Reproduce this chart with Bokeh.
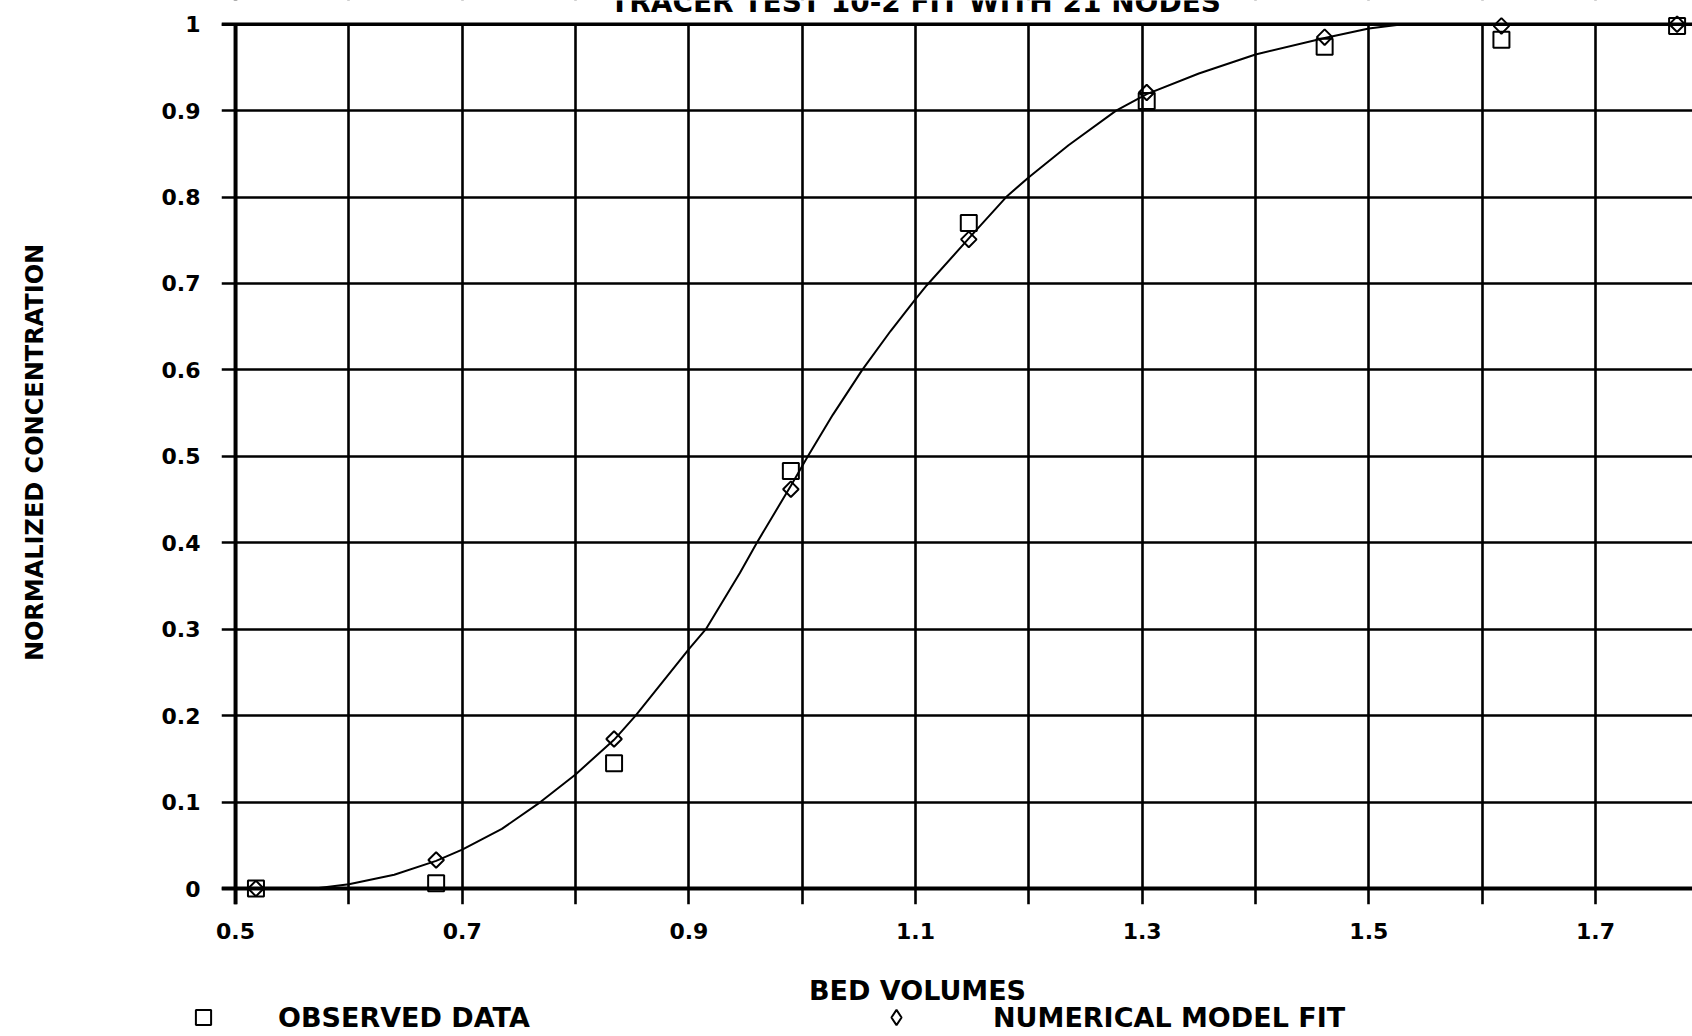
import math
from bokeh.plotting import figure
from bokeh.models import (Range1d, FixedTicker, Span, BoxAnnotation, Label,
                          Legend, LegendItem, CustomJSTickFormatter)
from bokeh.embed import file_html
from bokeh.resources import INLINE

# ---------------- data ----------------
title_text = "TRACER TEST 10-2 FIT WITH 21 NODES"
x_label = "BED VOLUMES"
y_label = "NORMALIZED CONCENTRATION"
obs_label = "OBSERVED DATA"
model_label = "NUMERICAL MODEL FIT"

x_ticks_labeled = [0.5, 0.7, 0.9, 1.1, 1.3, 1.5, 1.7]
x_ticks_unlabeled = [0.6, 0.8, 1.0, 1.2, 1.4, 1.6]
y_ticks = [0.0, 0.1, 0.2, 0.3, 0.4, 0.5, 0.6, 0.7, 0.8, 0.9, 1.0]

bed_volumes = [0.518, 0.677, 0.834, 0.990, 1.147, 1.304, 1.461, 1.617, 1.772]
observed = [0.0, 0.006, 0.145, 0.483, 0.770, 0.911, 0.974, 0.982, 0.998]
model_fit = [0.0, 0.033, 0.173, 0.462, 0.751, 0.921, 0.985, 0.998, 1.0]

curve_x = [0.50, 0.57, 0.60, 0.64, 0.677, 0.70, 0.735, 0.769, 0.80, 0.834,
           0.853, 0.90, 0.915, 0.945, 0.960, 0.99, 1.005, 1.027, 1.053, 1.078,
           1.10, 1.110, 1.149, 1.180, 1.20, 1.235, 1.277, 1.304, 1.35, 1.40,
           1.461, 1.50, 1.53, 1.786]
curve_y = [0.0, 0.0, 0.005, 0.016, 0.032, 0.045, 0.069, 0.100, 0.132, 0.172,
           0.200, 0.277, 0.300, 0.365, 0.400, 0.466, 0.500, 0.548, 0.600, 0.645,
           0.682, 0.698, 0.755, 0.800, 0.823, 0.860, 0.900, 0.919, 0.943, 0.965,
           0.984, 0.995, 1.0, 1.0]

# ---------------- main chart ----------------
FONT = "DejaVu Sans"
W = 1692
H_MAIN = 960
H_STRIP = 1036 - H_MAIN

p = figure(width=W, height=H_MAIN, output_backend="svg", toolbar_location=None,
           x_range=Range1d(0.4876, 1.7856), y_range=Range1d(-0.0185, 1.0274),
           min_border_left=221, min_border_right=0, min_border_top=0,
           min_border_bottom=56)
p.outline_line_color = None
p.background_fill_color = "white"
p.border_fill_color = "white"

xticker = FixedTicker(ticks=x_ticks_labeled, minor_ticks=x_ticks_unlabeled)
yticker = FixedTicker(ticks=y_ticks, minor_ticks=[])
fmt = CustomJSTickFormatter(code="return String(Math.round(tick*10)/10);")

xa = p.xaxis[0]
xa.ticker = xticker
xa.formatter = fmt
ya = p.yaxis[0]
ya.ticker = yticker
ya.formatter = fmt

for ax in (xa, ya):
    ax.axis_line_color = None
    ax.major_tick_line_color = None
    ax.minor_tick_line_color = None
    ax.major_tick_out = 0
    ax.major_tick_in = 0
    ax.minor_tick_out = 0
    ax.minor_tick_in = 0
    ax.major_label_text_font = FONT
    ax.major_label_text_font_style = "bold"
    ax.major_label_text_font_size = "22px"
    ax.major_label_text_color = "black"
    ax.axis_label_text_font = FONT
    ax.axis_label_text_font_style = "bold"
    ax.axis_label_text_color = "black"

xa.major_label_standoff = 18

ya.axis_label = y_label
ya.axis_label_text_font_size = "24px"
ya.major_label_standoff = 21
ya.axis_label_standoff = 110

p.xgrid.ticker = xticker
p.ygrid.ticker = yticker
for g in (p.xgrid[0], p.ygrid[0]):
    g.grid_line_color = "black"
    g.grid_line_width = 2.6
    g.grid_line_alpha = 1.0
p.xgrid.minor_grid_line_color = "black"
p.xgrid.minor_grid_line_width = 2.6

axis_v = Span(location=x_ticks_labeled[0], dimension="height", line_color="black",
              line_width=4, level="underlay")
axis_h = Span(location=y_ticks[0], dimension="width", line_color="black",
              line_width=4, level="underlay")
cover = BoxAnnotation(bottom=y_ticks[-1], fill_color="white", fill_alpha=1.0,
                      line_color=None, level="underlay")
top_line = Span(location=y_ticks[-1], dimension="width", line_color="black",
                line_width=3.5, level="underlay")
p.add_layout(axis_v)
p.add_layout(axis_h)
p.add_layout(cover)
p.add_layout(top_line)

p.line(curve_x, curve_y, line_color="black", line_width=2)
p.scatter(bed_volumes, observed, marker="square", size=16,
          fill_color=None, line_color="black", line_width=2)
p.scatter(bed_volumes, model_fit, marker="square", angle=math.pi / 4,
          size=11, fill_color=None, line_color="black", line_width=2)

# title: its upper half lies beyond the top edge, as in the source
p.add_layout(Label(x=1.1, y=1.025, text=title_text, text_align="center",
                   text_baseline="alphabetic", text_font=FONT,
                   text_font_style="bold", text_font_size="28px",
                   text_color="black"))

# ---------------- bottom strip: axis title + legend ----------------
s = figure(width=W, height=H_STRIP, output_backend="svg", toolbar_location=None,
           x_range=Range1d(0, W), y_range=Range1d(0, H_STRIP),
           x_axis_location=None, y_axis_location=None,
           min_border_left=0, min_border_right=0, min_border_top=0,
           min_border_bottom=0)
s.outline_line_color = None
s.background_fill_color = "white"
s.border_fill_color = "white"
s.xgrid.visible = False
s.ygrid.visible = False

s.add_layout(Label(x=917, y=46, text=x_label, text_align="center",
                   text_baseline="middle", text_font=FONT,
                   text_font_style="bold", text_font_size="27px",
                   text_color="black"))

# legend keys: renderers that hold no visible point, used only for the keys
nan = float("nan")
key_sq = s.scatter([nan], [nan], marker="square", size=13,
                   fill_color=None, line_color="black", line_width=2)
key_di = s.scatter([nan], [nan], marker="diamond", size=13,
                   fill_color=None, line_color="black", line_width=2)

def make_legend(lbl, rend, loc, standoff):
    return Legend(items=[LegendItem(label=lbl, renderers=[rend])],
                  location=loc, orientation="horizontal", padding=0, margin=0,
                  spacing=0, glyph_width=38, glyph_height=38,
                  label_standoff=standoff, border_line_color=None,
                  background_fill_alpha=0.0, label_text_font=FONT,
                  label_text_font_style="bold", label_text_font_size="27px",
                  label_text_color="black")

s.add_layout(make_legend(obs_label, key_sq, (184, 0), 56))
s.add_layout(make_legend(model_label, key_di, (877, 0), 78))

open("out.html", "w").write(file_html([p, s], INLINE))
